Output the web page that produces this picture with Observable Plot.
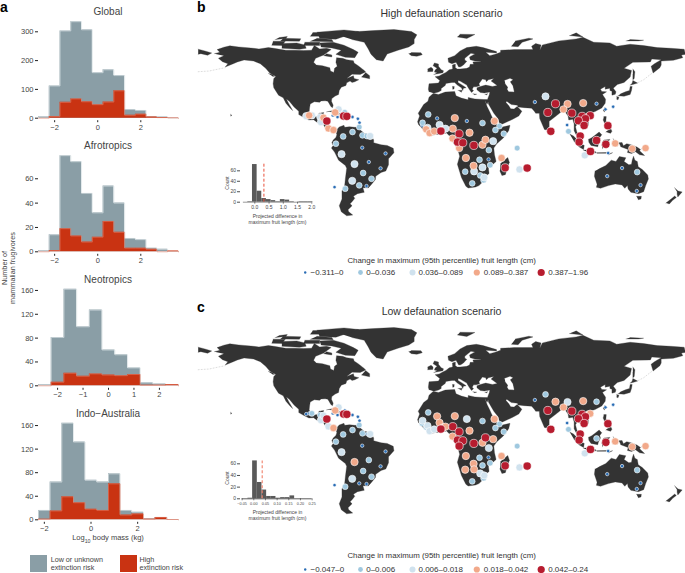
<!DOCTYPE html>
<html><head><meta charset="utf-8">
<script src="https://cdn.jsdelivr.net/npm/d3@7"></script>
<script src="https://cdn.jsdelivr.net/npm/@observablehq/plot@0.6"></script>
<style>
html,body{margin:0;padding:0;background:#fff}
#page{position:relative;width:685px;height:573px;overflow:hidden;font-family:"Liberation Sans",Arial,sans-serif;background:#fff}
#page svg{position:absolute;background:transparent;font-family:"Liberation Sans",Arial,sans-serif}
.t{position:absolute;white-space:nowrap;line-height:1}
.t sub{font-size:70%;line-height:0}
</style></head><body><div id="page"></div>
<script>
// ---------- Panel a: histograms of log10 body mass ----------
const edgesWide=[-2.75,-2.25,-1.75,-1.25,-0.75,-0.25,0.25,0.75,1.25,1.75,2.25,2.75,3.25,3.75];
const edgesNeo=[-2.75,-2.25,-1.75,-1.25,-0.75,-0.25,0.25,0.75,1.25,1.75,2.25,2.75];
const edgesIndo=[-2.25,-1.75,-1.25,-0.75,-0.25,0.25,0.75,1.25,1.75,2.25,2.75,3.25,3.75];
const globalAll=[5,112,303,335,307,158,168,148,30,27,5,4,0.5];
const globalHigh=[0,6,55,67,57,47,56,95,10,14,4,2,1];
const afroAll=[1,14,79,74,48,32,54,40,11,10,3,2,0.3];
const afroHigh=[0,1,19,13,8,12,25,16,3,3,2,0,0.6];
const neoAll=[2,81,162,99,127,60,52,30,5,3,2];
const neoHigh=[0,6,21,16,20,18,17,19,1,1,2];
const indoAll=[16,64,164,132,67,64,78,16,13,2,4,0.5];
const indoHigh=[1,15,39,29,18,16,61,8,10,1,4,0.5];
const yTicksGlobal=[0,100,200,300], yTicksAfro=[0,20,40,60], yTicksRegion=[0,40,80,120,160];
const xTicksWide=[-2,0,2], xTicksNeo=[-2,-1,0,1,2];
const lowColor="#8a9ea6", highColor="#c93312";

// ---------- Insets ----------
const insetHighCenters=[-0.163,0,0.163,0.326,0.489,0.652,0.815,0.978,1.141,1.304,1.467,1.63,1.793,1.956];
const insetHighCounts=[1,72,21,7,5,3,1,5,4,1,0,1,1,1];
const insetLowEdges=[-0.025,-0.005,0.015,0.035,0.055,0.075,0.095,0.115,0.135,0.155,0.175];
const insetLowCounts=[1,65,28,15,4,4,1,2,2,5,3];

// ---------- Map: sites as [lon, lat, high-scenario class, low-scenario class] ----------
const americaSites=[[-100,18.9,2,0],[-97.8,19.4,3,0],[-95.8,19.4,2,1],[-89.6,18.2,2,1],[-89.1,14.4,2,2],[-87.2,17.7,3,2],[-84.7,15.2,4,4],[-83.5,9.7,3,2],[-79.8,8.5,3,3],[-78.5,21.6,3,3],[-76,23.9,2,2],[-71.4,21.6,1,0],[-80.2,19.4,0,0],[-76.8,18.2,0,0],[-72.3,18.9,4,4],[-69.9,18.7,4,4],[-65.7,18.2,0,0],[-61.7,16.9,0,0],[-60.5,13.9,0,0],[-60.7,10.7,1,1],[-72.6,3.7,1,1],[-65.7,7,1,1],[-58.3,4.5,1,1],[-55,4,1,0],[-52.6,4,2,2],[-78,-1.7,1,1],[-73.8,-9.5,2,2],[-58.5,-4.7,0,0],[-41.2,-9,0,0],[-64.2,-16.9,2,3],[-53.6,-15.4,0,1],[-57.8,-23.6,1,1],[-44.9,-20.1,0,0],[-51.6,-27.9,1,1],[-65.9,-29.4,2,2],[-60.7,-32.8,1,0],[-55.3,-33.3,0,0],[-71.1,-35.3,1,1],[-79,-34.1,0,0]];
const africaSites=[[-9.6,20.1,1,1],[-3,17.2,0,3],[10.1,17.4,3,3],[19,15.2,0,2],[30.6,13.7,1,1],[39.5,15.2,3,3],[43.2,11.4,1,1],[40.2,8.5,1,1],[46.4,5.7,1,1],[-13.8,13.9,1,2],[-14.1,11.9,0,1],[-11.1,9,3,1],[-10.1,10.2,2,2],[-8.6,6.2,3,2],[-5.2,7.5,3,2],[-1.2,12.4,2,3],[-0.2,7.7,4,4],[1.7,9,2,3],[3.2,9.5,2,3],[8.6,9.5,3,4],[13.3,5.7,4,4],[21,6.5,3,3],[8.4,2.2,3,3],[12.1,-0.5,4,4],[16,-1,4,4],[13.3,-5,3,4],[24.2,-3,4,4],[30.6,-2.5,3,3],[32.8,1.2,3,4],[38.5,0.2,2,3],[35.3,-6.5,1,2],[18.3,-12.4,3,3],[28.4,-13.7,1,1],[35.1,-13.4,0,0],[44.7,-12.4,3,3],[24,-18.2,3,3],[30.6,-19.4,2,1],[36.3,-17.7,1,1],[17.8,-22.6,1,3],[24.4,-22.4,2,3],[28.9,-25.4,1,2],[31.9,-26.9,2,2],[31.4,-28.9,1,1],[23,-31.3,1,1],[47.4,-19.7,4,4],[56.3,-5,1,1],[58,-20.9,2,2],[63.7,-19.9,4,4]];
const asiaSites=[[69.4,29.4,0,0],[77.3,33.6,2,1],[84.7,28.1,4,3],[93.6,27.9,3,2],[90.6,23.9,3,3],[79,21.6,4,4],[105.2,28.6,3,3],[115.1,28.1,0,1],[121.7,23.9,0,0],[127.4,25.9,0,0],[96.8,21.1,4,4],[93.3,12.2,0,0],[94.3,7.5,1,1],[81.2,7.5,4,4],[104.4,18.7,4,4],[110.4,19.2,4,3],[106.9,16.9,4,4],[101.7,15.4,4,4],[105.9,11.9,4,4],[123.5,11.7,4,4],[103,4,4,4],[102.2,-0.5,4,4],[115.1,0.7,4,1],[122,-2.2,4,4],[110.6,-7.5,4,4],[106.4,-10.4,2,2],[128.9,-1.5,3,3],[141.5,-5.5,3,3],[151.4,-5,3,3],[123.7,-8.7,0,0],[134,-19.9,0,0],[123,-25.9,0,0],[145.2,-22.9,1,1],[147.7,-32.6,0,0],[144.9,-37,0,0]];
const classColors=["#2a6db5","#9fc8df","#d0e2ee","#f2a98a","#b71c2f"];
const classRadii=[1.7,2.9,3.6,3.7,4.1];
const legendHigh=["−0.311–0","0–0.036","0.036–0.089","0.089–0.387","0.387–1.96"];
const legendLow=["−0.047–0","0–0.006","0.006–0.018","0.018–0.042","0.042–0.24"];
const legendDotRadii=[1.2,2.4,3,3.1,3.6];
const legendDotX=[304.7,360,412,476.3,540.7];
const legendTextX=[310,365.7,418,483.3,547.7];

// ---------- Coastlines (lon, lat) ----------
const northAmerica=[[-168,65.5],[-164,66.5],[-166,68.5],[-161,70.3],[-156.5,71.3],[-150,70.5],[-141,69.7],[-135,69],[-128,70],[-124,69.5],[-115,68],[-108,68],[-102,67.8],[-96,68],[-94,71.5],[-90,69],[-85,69.5],[-81.5,68.5],[-85,66],[-87,64.5],[-93,62],[-94.5,59],[-92.5,57],[-88,56.5],[-82.5,55],[-82,52.5],[-79.5,51.5],[-79,54.5],[-77,56],[-78,59],[-77.5,62.5],[-73,62],[-70,61],[-65,60.2],[-64.5,58.5],[-61.5,56.5],[-57,53],[-56,51.7],[-60,50],[-66,50.2],[-70,47],[-65,49],[-64.5,47],[-61,46],[-64,44.5],[-66,44],[-67.5,45],[-70,43.7],[-70.5,41.7],[-74,40.5],[-75.5,38],[-76,35],[-78.5,33.8],[-81,32],[-81.3,30],[-80,27],[-80.5,25.2],[-81.7,26],[-82.8,28],[-84,30],[-86,30.3],[-89,30.2],[-90,29.2],[-94,29.6],[-97,28],[-97.5,25],[-97.8,22],[-96,19],[-94,18.2],[-91.5,18.6],[-90.5,21],[-87,21.5],[-87.7,18],[-88.5,16],[-84,15.8],[-83.3,14.5],[-83.7,11],[-82,9.2],[-79.5,9.5],[-77.5,8.5],[-78.5,7.5],[-80.5,7.3],[-83,8.3],[-85.7,10],[-87.5,13],[-91.5,14],[-94.5,16.2],[-98,16],[-102,18],[-105.5,20],[-105.5,22.5],[-109,25.7],[-112.5,30],[-114.7,31.7],[-112.8,28],[-110,23],[-112,25],[-115,28.5],[-117,32.5],[-120.5,34.5],[-124,40],[-124.5,43],[-124,47],[-122.5,48.5],[-127,51],[-130,54.5],[-134,58],[-139,60],[-146,60.8],[-151,59.3],[-154,58],[-160,55.5],[-158,58],[-162,59.5],[-165,62],[-161,64]];
const greenland=[[-73,78.2],[-68,80.5],[-62,82],[-50,82.7],[-35,83.5],[-22,82],[-18,79.5],[-20,76],[-20,73],[-24,70.5],[-32,68],[-40,65.3],[-43,60],[-48,61],[-52,65],[-54,69],[-57,74],[-66,76]];
const arcticIslands=[
 [[-90,73.5],[-80,74],[-72,71.8],[-65,68.5],[-61.5,66.5],[-64,62.5],[-71,62.8],[-78,65],[-74,68],[-81,69.7],[-89,70.5]],
 [[-118,69.5],[-105,68.7],[-100,69.5],[-101,72],[-107,73.5],[-118,73]],
 [[-90,76.7],[-78,76.3],[-70,79],[-61,82],[-72,83.2],[-92,81.5]],
 [[-125.5,71.8],[-118,71.5],[-115.5,74.8],[-124.5,74.8]],
 [[-97,74.7],[-80,74.4],[-81,76],[-92,77]],
 [[-119,74.9],[-105,74.8],[-104,76.6],[-117,77]],
 [[-102,71.5],[-90,71.5],[-90,74],[-101,74]],
 [[-87,64],[-81,63],[-81,64.5],[-85,65.5]],
 [[-59,48],[-53,46.7],[-53,49],[-56,51.5]],
 [[-97,78.5],[-86,78.5],[-88,81.3],[-95,81.2]],
 [[-123,76],[-115,76.8],[-114,78.3],[-120,77.5]],
 [[-128,50.7],[-125,50],[-123.5,48.5],[-125,48.7]]];
const caribbean=[[[-85,22],[-80,23],[-75,20.5],[-77.5,20],[-78,21.2],[-82,22.2]],[[-74.5,18.3],[-71,18],[-68.5,18.5],[-69.5,19.7],[-72.5,20]]];
const southAmerica=[[-77.5,8.5],[-75.5,10.8],[-72,12],[-71.5,10.5],[-68,11],[-64,10.5],[-62,10.5],[-60,8.5],[-57,6],[-52,5],[-50,1],[-50,-1],[-44.5,-2.5],[-40,-3],[-35.5,-5.2],[-35,-8.5],[-39,-13],[-39,-17.5],[-41,-22],[-44.5,-23.2],[-48.5,-26],[-48.7,-28.5],[-52,-32.5],[-54,-34.7],[-58,-34.5],[-57,-38],[-62,-39],[-65,-41],[-64,-42.5],[-66,-45],[-67.5,-46.5],[-66,-48],[-69,-51],[-68.5,-52.5],[-65.5,-55],[-70,-55.5],[-74,-52.5],[-75.5,-48],[-73.5,-43],[-73.5,-37],[-71.5,-33],[-71,-28],[-70,-20],[-71,-18],[-76,-14],[-79,-8],[-81.3,-5],[-80,-3],[-81,-1],[-80,1],[-78,3],[-77.3,5],[-78,7.5]];
const eurasia=[[-9,37],[-9.5,39],[-9,43],[-2,43.5],[-1,45.5],[-4.5,48.3],[-1.5,48.8],[1.5,50.5],[3.5,51.5],[6,53.4],[8.5,54],[8.3,57],[10.5,57.7],[10.5,55],[12,54],[14,54],[19,54.5],[21,55.5],[21.5,57.5],[24,57.5],[23.5,59.3],[28,59.7],[30,60],[25,60],[21.5,61],[21,63],[25,65.3],[22,65.7],[17.5,62],[17.5,60.5],[19,59.8],[16.5,57],[14.5,55.7],[13,55.5],[11,59],[8,58],[5.5,59],[5,62],[10,64],[14,67.5],[19,70],[26,71],[31,70],[41,67],[41,66],[33,66.5],[36,64],[40,65],[44,66.5],[44,68],[54,68.5],[60,68.5],[68,68.5],[67,71],[70,73],[74,72],[73,68],[75,72],[81,73.5],[87,75],[100,76.5],[105,77.7],[113,74],[125,73.5],[130,71],[140,72.5],[150,71.5],[160,70],[170,69.5],[180,68.8],[181,65],[178,64.5],[179,62.5],[172,60.5],[163,60],[163,57],[162,55],[157,51],[155.5,56],[158,58],[163,61],[156,61.5],[155,59.3],[142,59],[135.5,54.5],[141,53],[140,48],[135.5,44],[130.5,42.5],[127.5,39.7],[129.5,37],[129,35.2],[126.5,34.5],[126.5,37.5],[125,38],[125,39.7],[121.5,39],[121.5,40.9],[118,39],[119,37.3],[122.5,37],[119.5,35],[121.8,31.5],[121.5,28.5],[119,25],[114,22.3],[110,21],[108,21.5],[106,19.5],[109,15],[109,12],[105,8.7],[105,10.5],[101,13.3],[99.5,11],[100.5,7],[103.5,1.5],[101,3],[98.5,8],[98.5,13],[97.5,16.5],[94.5,16],[94,19],[91.5,22.5],[88.5,21.7],[86.5,20],[82,16.5],[80,15],[80,11],[78,8.5],[76.5,8.9],[73,17],[72.7,21],[70,21],[69,22.5],[67,24.8],[61.5,25.2],[57,25.7],[56.5,27],[52,27.5],[48.5,30],[48,29],[50,26.7],[51.5,24.3],[54,24.1],[56.3,26],[59.8,22.5],[57.5,19],[53,16.5],[45,12.8],[43.2,13],[42.5,16.5],[39,21],[35,28],[34.8,29.5],[34,27.8],[32.7,29.8],[32.3,31.2],[34.3,31.3],[35.7,35],[36,36.8],[32,36.1],[29,36.5],[26.5,38.5],[26.5,40],[29,41],[33,42],[38,41],[41.5,41.7],[37,45],[39,47],[35,46],[33.5,44.5],[33,46],[30.5,46.5],[28,43],[28.5,41.5],[26,40.7],[24,40.7],[23,39],[24,37.8],[22.5,36.5],[21,38.5],[19.5,41],[19,42],[14,45],[12.5,45.5],[12.5,44],[16,41.8],[18.5,40],[16.5,39.7],[16,38],[15,40],[12,42],[10,44],[8,44],[3.5,43.3],[3,41.8],[0,39.5],[0,38],[-2,36.8],[-5.5,36]];
const africa=[[-5.5,35.8],[-2,35],[3,36.8],[10,37.3],[11,34],[15,32.3],[20,31],[20,32.8],[25,31.7],[32.3,31.2],[32.7,29.8],[34,26],[36,22],[37.3,19],[39.5,15],[43,11.6],[44.5,10.5],[51,12],[50,8],[46,2.5],[41,-2],[39,-5],[39.5,-10],[40.7,-15],[35,-20],[35.5,-24],[32.8,-26],[32,-29],[28,-33],[25.5,-34],[20,-34.8],[18.3,-33.5],[15,-27],[12,-17],[13.7,-11],[12,-5],[9,-1],[9.7,3.5],[6,4.3],[4,6.3],[0,5.5],[-4,5.2],[-7.5,4.4],[-13,8.5],[-16.7,12.5],[-17.5,14.7],[-16,19],[-17,21],[-13,27.5],[-9.8,30],[-9,33],[-6,35.7]];
const australia=[[114,-22],[113.5,-26],[115.5,-32],[115,-34.3],[118,-35],[124,-33],[129,-31.7],[134,-32.5],[136,-35],[138,-33],[138.5,-35.5],[140.5,-38],[146,-39],[150,-37.5],[151.5,-33],[153.5,-28],[153,-25],[149,-21],[146,-19],[145.3,-15],[143.5,-14],[142.5,-11],[141.5,-14],[141,-17],[139,-17.5],[135.5,-15],[136.8,-12.2],[132,-11.3],[129.5,-15],[126,-14],[122,-18],[117,-20.5]];
const europeIslands=[
 [[-5.5,50],[1.3,51.2],[1.7,52.7],[0,53.5],[-2,56],[-2,57.7],[-5,58.6],[-6,56.5],[-3,54.5],[-4.5,53.2],[-5,51.7],[-3,51.3]],
 [[-10,52],[-6.2,52.2],[-6,54],[-7.5,55.3],[-10,54]],
 [[-24,65.5],[-22,64],[-18,63.5],[-14,64.7],[-15,66.2],[-22,66.3]],
 [[12,78],[19,76.8],[25,79.8],[14,80]],
 [[52,71],[57,70.7],[60,74],[68,76.5],[65,77],[55,75]],
 [[12.5,38],[15.5,38.2],[15,36.7]],[[8.3,41],[9.7,41],[9.5,39.1],[8.5,39]],
 [[23.5,35.5],[26.3,35.2],[24.7,34.9]],[[32.4,35],[34.5,35.6],[33.5,34.7]]];
const asiaIslands=[
 [[95,79],[105,78],[100,81]],[[137,75],[146,75],[150,75.5],[140,76]],
 [[-180,68.8],[-175,67.5],[-170,66],[-173,64.3],[-178,65.5],[-180,65]],
 [[142,54],[143.5,52],[143,47],[142,46],[142,50]],
 [[140,42],[142,42.5],[145.5,43.5],[142,45.5],[141.5,43.5]],
 [[131,34],[135.5,33.7],[140,35],[141,38],[141.5,41],[140,41],[139.5,38],[136.5,37],[133,35.5]],
 [[130,33.5],[131.7,33],[131,31],[130,31.5]],
 [[120,23],[121,22],[122,25],[121,25.2]],[[108.7,19],[110.5,18.3],[111,20],[109.5,20]],
 [[79.8,8],[81,6],[82,7.5],[80,9.7]],
 [[95.2,5.5],[98,4],[104,-2],[106,-3],[105.5,-6],[102,-4],[98.5,0]],
 [[105.3,-6.5],[108.5,-6.5],[114.5,-7.7],[114.4,-8.7],[108,-7.9]],
 [[109,1.5],[111.5,2.7],[114,4.6],[117,7],[119,5],[117.5,3],[118,1],[116.5,-2],[116,-4],[111,-3],[109.3,-0.5]],
 [[119.5,-5.5],[120.5,-3],[122.5,-5],[123,-4],[121.5,-1.5],[123,-0.9],[125,1.5],[120.5,1],[119.7,-0.5],[119,-3]],
 [[120.5,18.5],[122.3,18.5],[122,15],[124,13],[121,13.7],[120,16]],
 [[122,7],[125.5,9.8],[126.5,7.5],[125.5,6],[124,6.5]],[[122,11],[125,12],[125,10],[123,9.5]],
 [[131,-1],[134,-0.8],[135,-3.3],[137.5,-1.7],[141,-2.6],[145,-4.2],[147.7,-6],[147,-7],[150.7,-10.5],[147,-10],[144,-7.7],[141,-9],[138,-8.3],[138.5,-6],[133,-4],[132.5,-2.5]],
 [[148.5,-5.5],[152,-4.2],[151,-6]],[[127.5,2],[128.5,0],[128,-0.8]],[[124,-10],[127,-8.4],[125,-9]],
 [[115,-8.4],[123,-8.3],[122,-8.9],[115.5,-8.9]],[[128,-3],[130.8,-3.3],[129,-3.5]],
 [[144.7,-41],[148.3,-41],[148,-43],[146,-43.5]],
 [[166.5,-46],[171,-42.5],[173,-40.8],[174.2,-41.8],[171.5,-44],[169,-46.7]],
 [[172.8,-34.5],[175.5,-37],[178.5,-37.7],[175.3,-41.5],[174.8,-39.5],[174.8,-37.5]],
 [[44,-16.5],[49.3,-12],[50.5,-15.5],[47.5,-24.8],[45,-25.5],[43.5,-22]],
 [[-156,20.2],[-155,19.4],[-156,18.9]]];
const caspian=[[47,45.5],[51,47],[53,46],[51,44.5],[53,41.5],[54,37],[50,37.3],[49,39],[49.5,40.5],[47.5,43]];
const faintChains=[[[-180,52],[-172,52.5],[-165,54],[-160,55]],[[146,44],[150,46],[155,50],[156.5,51]]];

// ---------- Helpers ----------
const page=document.getElementById("page");
function place(node,left,top){node.style.left=left+"px";node.style.top=top+"px";page.appendChild(node);}
function text(html,x,y,o={}){
  const d=document.createElement("div");d.className="t";d.innerHTML=html;
  const size=o.size??8, anchor=o.anchor??"start";
  d.style.cssText+=`left:${x}px;top:${y}px;font-size:${size}px;color:${o.color??"#444"};font-weight:${o.weight??"normal"};text-align:${anchor==="middle"?"center":"left"};`;
  const tx=anchor==="middle"?"-50%":"0";
  d.style.transform=`translate(${tx},-50%)`+(o.rotate?` rotate(${o.rotate}deg)`:"");
  page.appendChild(d);
}
function stepRows(edges,vals){
  const r=[{x:edges[0],y:0}];
  vals.forEach((v,i)=>r.push({x:edges[i],y:v}));
  r.push({x:edges[edges.length-1],y:0});
  return r;
}
const intFormat=d3.format("d");
function hist({edges,all,high,xTicks,yTicks,top,y0,ppu}){
  const H=120,W=190,mB=top+H-y0,mT=2;
  const chart=Plot.plot({
    width:W,height:H,marginLeft:38,marginRight:12,marginTop:mT,marginBottom:mB,
    style:{background:"transparent"},
    x:{domain:[edges[0],edges[edges.length-1]]},
    y:{domain:[0,(y0-top-mT)/ppu]},
    marks:[
      Plot.areaY(stepRows(edges,all),{x:"x",y:"y",curve:"step-after",fill:lowColor}),
      Plot.line(stepRows(edges,all),{x:"x",y:"y",curve:"step-after",stroke:"#d9e1e4",strokeWidth:0.7}),
      Plot.areaY(stepRows(edges,high),{x:"x",y:"y",curve:"step-after",fill:highColor}),
      Plot.line(stepRows(edges,high),{x:"x",y:"y",curve:"step-after",stroke:"#e2806a",strokeWidth:0.6}),
      Plot.axisY({ticks:yTicks,tickSize:3,tickPadding:2,fontSize:7.5,label:null,strokeWidth:1,stroke:"#222",color:"#444"}),
      Plot.axisX({ticks:xTicks,tickFormat:intFormat,tickSize:2,tickPadding:1.5,fontSize:7.5,label:null,dy:2.5,strokeWidth:1,stroke:"#222",color:"#444"})
    ]});
  place(chart,0,top);
}
const landPolygons=[northAmerica,greenland,southAmerica,eurasia,africa,australia,...arcticIslands,...caribbean,...europeIslands,...asiaIslands];
const landRows=landPolygons.flatMap((p,i)=>p.map(([lon,lat])=>({lon,lat,id:i})));
const chainRows=faintChains.flatMap((p,i)=>p.map(([lon,lat])=>({lon,lat,id:i})));
const sites=[...americaSites,...africaSites,...asiaSites].map(([lon,lat,high,low])=>({lon,lat,high,low}));

function worldMap(top,key){
  const chart=Plot.plot({
    width:490,height:201,margin:0,
    style:{background:"transparent"},
    x:{domain:[-182,181],axis:null},
    y:{domain:[-65,85],axis:null},
    marks:[
      Plot.line(chainRows,{x:"lon",y:"lat",z:"id",stroke:"#aaa",strokeWidth:0.4,strokeDasharray:"1,2"}),
      Plot.line(landRows,{x:"lon",y:"lat",z:"id",fill:"#333333",stroke:"#333333",strokeWidth:0.3}),
      Plot.line(caspian.map(([lon,lat])=>({lon,lat})),{x:"lon",y:"lat",fill:"white",stroke:"white",strokeWidth:0.2}),
      ...classColors.map((c,k)=>Plot.dot(sites.filter(s=>s[key]===k),{x:"lon",y:"lat",r:classRadii[k],fill:c,stroke:"#fff",strokeOpacity:0.85,strokeWidth:0.7}))
    ]});
  place(chart,195.3,top);
}
function mapLegend(top,labels){
  const rows=labels.map((l,i)=>({l,dx:legendDotX[i],tx:legendTextX[i],r:legendDotRadii[i],c:classColors[i]}));
  const chart=Plot.plot({
    width:685,height:12,margin:0,
    style:{background:"transparent"},
    x:{domain:[0,685],axis:null},
    marks:[
      ...rows.map(d=>Plot.dot([d],{x:"dx",frameAnchor:"middle",r:d.r,fill:d.c})),
      Plot.text(rows,{x:"tx",text:"l",frameAnchor:"middle",textAnchor:"start",fontSize:8,fill:"#333"})
    ]});
  place(chart,0,top);
}

// ---------- Panel a ----------
hist({edges:edgesWide,all:globalAll,high:globalHigh,xTicks:xTicksWide,yTicks:yTicksGlobal,top:15,y0:117.7,ppu:0.288});
hist({edges:edgesWide,all:afroAll,high:afroHigh,xTicks:xTicksWide,yTicks:yTicksAfro,top:150,y0:251.3,ppu:1.217});
hist({edges:edgesNeo,all:neoAll,high:neoHigh,xTicks:xTicksNeo,yTicks:yTicksRegion,top:283,y0:385.3,ppu:0.596});
hist({edges:edgesIndo,all:indoAll,high:indoHigh,xTicks:xTicksWide,yTicks:yTicksRegion,top:418,y0:519.3,ppu:0.589});
text("Global",108,12,{size:10,anchor:"middle"});
text("Afrotropics",108,146,{size:10,anchor:"middle"});
text("Neotropics",108,280,{size:10,anchor:"middle"});
text("Indo−Australia",108,413.5,{size:10,anchor:"middle"});
text("Number of",4.5,268,{size:7.3,anchor:"middle",rotate:-90});
text("mammalian frugivores",13,268,{size:7.3,anchor:"middle",rotate:-90});
text("Log<sub>10</sub> body mass (kg)",108,538,{size:7.5,anchor:"middle"});
for(const [x,c] of [[30,lowColor],[119.5,highColor]]){
  const d=document.createElement("div");
  d.style.cssText=`position:absolute;left:${x}px;top:555px;width:17px;height:17px;background:${c}`;
  page.appendChild(d);
}
text("Low or unknown",50.7,559.5,{size:7.2});
text("extinction risk",50.7,568,{size:7.2});
text("High",139.5,559.5,{size:7.2});
text("extinction risk",139.5,568,{size:7.2});
text("a",0,7,{size:14,weight:"bold",color:"#000"});
text("b",197,7,{size:14,weight:"bold",color:"#000"});
text("c",197,307,{size:14,weight:"bold",color:"#000"});

// ---------- Panels b, c ----------
text("High defaunation scenario",441.5,12.5,{size:10.5,anchor:"middle",color:"#333"});
text("Low defaunation scenario",441.5,310.5,{size:10.5,anchor:"middle",color:"#333"});
worldMap(27.1,"high");
worldMap(325.1,"low");
text("Change in maximum (95th percentile) fruit length (cm)",441.7,260.7,{size:7.9,anchor:"middle",color:"#333"});
text("Change in maximum (95th percentile) fruit length (cm)",441.7,556,{size:7.9,anchor:"middle",color:"#333"});
mapLegend(265.7,legendHigh);
mapLegend(562.7,legendLow);

// Inset b
{
  const w=0.163;
  const rows=insetHighCenters.map((c,i)=>({x1:c-w/2,x2:c+w/2,y:insetHighCounts[i]}));
  const chart=Plot.plot({
    width:110,height:66,marginLeft:25,marginRight:10,marginTop:3,marginBottom:24.3,
    style:{background:"transparent"},
    x:{domain:[(240-254.3)/28.5,(315-254.3)/28.5]},
    y:{domain:[0,(201.7-163)/0.523]},
    marks:[
      Plot.rectY(rows,{x1:"x1",x2:"x2",y:"y",fill:"#595959"}),
      Plot.ruleY([0],{x1:-0.4,x2:2,stroke:"#555",strokeWidth:0.6}),
      Plot.ruleX([0.32],{y1:0,y2:74,stroke:"#e8503a",strokeWidth:1,strokeDasharray:"3,2"}),
      Plot.axisY({ticks:[0,20,40,60],tickSize:3,tickPadding:1.5,fontSize:5,label:null,strokeWidth:0.8,stroke:"#222",color:"#444"}),
      Plot.axisX({ticks:[0,0.5,1,1.5,2],tickFormat:d3.format(".1f"),tickSize:2,tickPadding:1,fontSize:5,label:null,strokeWidth:0.6,stroke:"#333",color:"#444"})
    ]});
  place(chart,215,160);
  text("Count",227,183,{size:5,anchor:"middle",rotate:-90});
  text("Projected difference in",277.5,216,{size:5,anchor:"middle"});
  text("maximum fruit length (cm)",277.5,222,{size:5,anchor:"middle"});
}
// Inset c
{
  const rows=insetLowCounts.map((v,i)=>({x1:insetLowEdges[i],x2:insetLowEdges[i+1],y:v}));
  const x0=253.3,k=233.3,left=215,yz=498.3,ppu=0.583;
  const chart=Plot.plot({
    width:110,height:66,marginLeft:25,marginRight:8,marginTop:3,marginBottom:66-3-(yz-(452+3)),
    style:{background:"transparent"},
    x:{domain:[(240-x0)/k,(317-x0)/k]},
    y:{domain:[0,(yz-455)/ppu]},
    marks:[
      Plot.rectY(rows,{x1:"x1",x2:"x2",y:"y",fill:"#595959"}),
      Plot.ruleY([0],{x1:-0.05,x2:0.25,stroke:"#333",strokeWidth:0.8}),
      Plot.ruleX([0.036],{y1:0,y2:65,stroke:"#f0806a",strokeWidth:1.1,strokeDasharray:"3,2"}),
      Plot.axisY({ticks:[0,20,40,60],tickSize:3,tickPadding:1.5,fontSize:5,label:null,strokeWidth:0.8,stroke:"#222",color:"#444"}),
      Plot.axisX({ticks:[-0.05,0,0.05,0.1,0.15,0.2,0.25],tickFormat:d3.format(".2f"),tickSize:2,tickPadding:1,fontSize:3.8,label:null,strokeWidth:0.6,stroke:"#333",color:"#444"})
    ]});
  place(chart,left,452);
  text("Count",227,478,{size:5,anchor:"middle",rotate:-90});
  text("Projected difference in",277.5,512,{size:5,anchor:"middle"});
  text("maximum fruit length (cm)",277.5,518.3,{size:5,anchor:"middle"});
}
</script></body></html>
